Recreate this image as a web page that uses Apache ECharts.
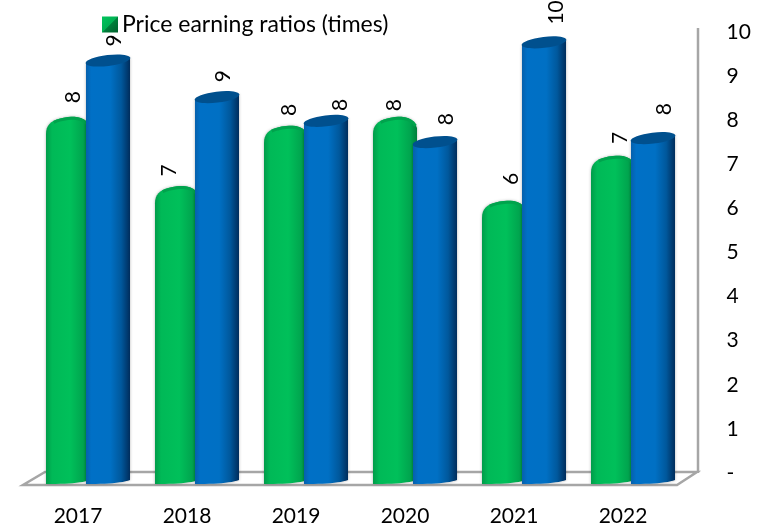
<!DOCTYPE html>
<html>
<head>
<meta charset="utf-8">
<title>Price earning ratios</title>
<script src="https://cdn.jsdelivr.net/npm/echarts@6/dist/echarts.min.js"></script>
<style>
  html, body { margin: 0; padding: 0; background: #fff; }
  #chart { width: 760px; height: 525px; }
</style>
</head>
<body>
<div id="chart"></div>
<script>
var years = ['2017', '2018', '2019', '2020', '2021', '2022'];
var greenValues = [8.07, 6.5, 7.87, 8.07, 6.17, 7.19];
var blueValues = [9.49, 8.66, 8.12, 7.64, 9.9, 7.73];
var legendName = 'Price earning ratios (times)';

// label nudges in px, from bar left edge / bar top
var greenLabelDx = [27, 14, 25, 21, 29, 29];
var greenLabelDy = [-26, -22, -22, -18, -28, -24];
var blueLabelDx = [28, 28, 36, 33, 34, 33];
var blueLabelDy = [-20, -21, -16, -23, -30, -29];

var FONT = 'Lato, "Open Sans", sans-serif';
var TEXT = '#000';
var WALL = '#a6a6a6';

function hGrad(stops) {
    return new echarts.graphic.LinearGradient(0, 0, 1, 0, stops);
}

var greenBody = [
    {offset: 0, color: '#009c4a'},
    {offset: 0.14, color: '#00b957'},
    {offset: 0.55, color: '#00c05a'},
    {offset: 0.85, color: '#00a44e'},
    {offset: 1, color: '#007f3b'}
];
var blueBody = [
    {offset: 0, color: '#0660ac'},
    {offset: 0.12, color: '#0070c6'},
    {offset: 0.55, color: '#0070c4'},
    {offset: 0.8, color: '#00589c'},
    {offset: 1, color: '#002d5c'}
];
var legendSwatch = new echarts.graphic.LinearGradient(0, 0, 1, 1, [
    {offset: 0, color: '#00c45c'},
    {offset: 0.5, color: '#00b052'},
    {offset: 0.52, color: '#007f3b'},
    {offset: 1, color: '#00602c'}
]);

function cubic(p0, p1, p2, p3, n, out) {
    for (var k = 0; k <= n; k++) {
        var t = k / n, u = 1 - t;
        out.push([
            u * u * u * p0[0] + 3 * u * u * t * p1[0] + 3 * u * t * t * p2[0] + t * t * t * p3[0],
            u * u * u * p0[1] + 3 * u * u * t * p1[1] + 3 * u * t * t * p2[1] + t * t * t * p3[1]
        ]);
    }
}

// curved foot of a cylinder, left to right is added backwards by the caller
function footPoints(xl, xr, y0) {
    var pts = [];
    cubic([xr, y0 + 1], [xr - 8, y0 + 4], [xr - 24, y0 + 5], [xl, y0 + 5], 12, pts);
    return pts;
}

function labelEl(x, y, value) {
    return {
        type: 'text',
        x: x,
        y: y,
        rotation: Math.PI / 2,
        z2: 20,
        style: {
            text: String(Math.round(value)),
            font: '21px ' + FONT,
            fill: TEXT,
            align: 'center',
            verticalAlign: 'middle'
        }
    };
}

function renderGreen(params, api) {
    var i = params.dataIndex;
    var v = api.value(1);
    var top = api.coord([i, v]);
    var base = api.coord([i, 0]);
    var k = api.size([1, 0])[0] / 109;
    var xl = top[0] - 42 * k, xr = top[0] + 2 * k;
    var yt = top[1] - 6;

    var outline = [];
    cubic([xl, yt + 17], [xl, yt + 6], [xl + 7, yt + 2], [xl + 22, yt], 10, outline);
    cubic([xl + 22, yt], [xl + 30, yt - 1], [xr - 3, yt], [xr, yt + 11], 8, outline);
    var rim = outline.slice(6, 19);
    var body = outline.concat(footPoints(xl, xr, base[1]));

    return {
        type: 'group',
        children: [
            {
                type: 'polygon',
                shape: {points: body},
                style: {fill: hGrad(greenBody), shadowBlur: 3, shadowColor: 'rgba(0,0,0,0.3)'}
            },
            {
                type: 'polyline',
                shape: {points: rim.map(function (p) { return [p[0], p[1] + 1.5]; })},
                style: {fill: null, stroke: '#00a34d', lineWidth: 3}
            },
            labelEl(xl + greenLabelDx[i], yt + greenLabelDy[i] + 6, v)
        ]
    };
}

function renderBlue(params, api) {
    var i = params.dataIndex;
    var v = api.value(1);
    var top = api.coord([i, v]);
    var base = api.coord([i, 0]);
    var k = api.size([1, 0])[0] / 109;
    var xl = top[0] - 2 * k, xr = top[0] + 42 * k;
    var cx = (xl + xr) / 2, cy = top[1];

    var body = [[xl, cy + 3], [xr, cy - 3]].concat(footPoints(xl, xr, base[1]));

    return {
        type: 'group',
        children: [
            {
                type: 'polygon',
                shape: {points: body},
                style: {fill: hGrad(blueBody), shadowBlur: 3, shadowColor: 'rgba(0,0,0,0.3)'}
            },
            {
                type: 'ellipse',
                x: cx,
                y: cy,
                rotation: 0.12,
                shape: {cx: 0, cy: 0, rx: 22.5, ry: 5.5},
                style: {fill: '#00508e'}
            },
            labelEl(xl + blueLabelDx[i], cy + blueLabelDy[i], v)
        ]
    };
}

var chart = echarts.init(document.getElementById('chart'), null, {renderer: 'canvas'});

var option = {
    animation: false,
    backgroundColor: '#fff',
    textStyle: {fontFamily: FONT},
    legend: {
        left: 100,
        top: 11,
        icon: 'rect',
        itemWidth: 16,
        itemHeight: 16,
        itemGap: 4,
        padding: 2,
        selectedMode: false,
        textStyle: {fontFamily: FONT, fontSize: 23, color: TEXT, padding: [0, 0, 0, -1]},
        data: [{name: legendName, itemStyle: {color: legendSwatch}}]
    },
    // walls and floor of the 3d box
    graphic: [
        {
            type: 'polygon',
            silent: true,
            shape: {points: [[23, 485], [677, 485], [697, 472], [45, 472]]},
            style: {fill: '#fff', stroke: WALL, lineWidth: 2.5}
        },
        {
            type: 'line',
            silent: true,
            shape: {x1: 698, y1: 28, x2: 698, y2: 473},
            style: {stroke: WALL, lineWidth: 2.5}
        }
    ],
    grid: [
        {left: 23.5, width: 654, top: 32, bottom: 52, outerBoundsMode: 'none'},
        {left: 33.5, width: 654, top: 38, bottom: 46, outerBoundsMode: 'none'}
    ],
    xAxis: [
        {
            type: 'category',
            gridIndex: 0,
            data: years,
            axisLine: {show: false},
            axisTick: {show: false},
            axisLabel: {fontFamily: FONT, fontSize: 21, color: TEXT, margin: 33}
        },
        {type: 'category', gridIndex: 1, data: years, show: false}
    ],
    yAxis: [
        {
            type: 'value',
            gridIndex: 0,
            position: 'right',
            min: 0,
            max: 10,
            interval: 1,
            splitLine: {show: false},
            axisLine: {show: false},
            axisTick: {show: false},
            axisLabel: {
                fontFamily: FONT,
                fontSize: 21,
                color: TEXT,
                margin: 49,
                align: 'left',
                formatter: function (v) { return v === 0 ? '-' : String(v); }
            }
        },
        {type: 'value', gridIndex: 1, min: 0, max: 10, show: false}
    ],
    series: [
        {
            name: legendName,
            type: 'custom',
            xAxisIndex: 1,
            yAxisIndex: 1,
            clip: false,
            z: 3,
            itemStyle: {color: legendSwatch},
            renderItem: renderGreen,
            encode: {x: 0, y: 1},
            data: years.map(function (y, i) { return [i, greenValues[i]]; })
        },
        {
            name: 'blue',
            type: 'custom',
            xAxisIndex: 1,
            yAxisIndex: 1,
            clip: false,
            z: 4,
            renderItem: renderBlue,
            encode: {x: 0, y: 1},
            data: years.map(function (y, i) { return [i, blueValues[i]]; })
        }
    ]
};

chart.setOption(option);
</script>
</body>
</html>
